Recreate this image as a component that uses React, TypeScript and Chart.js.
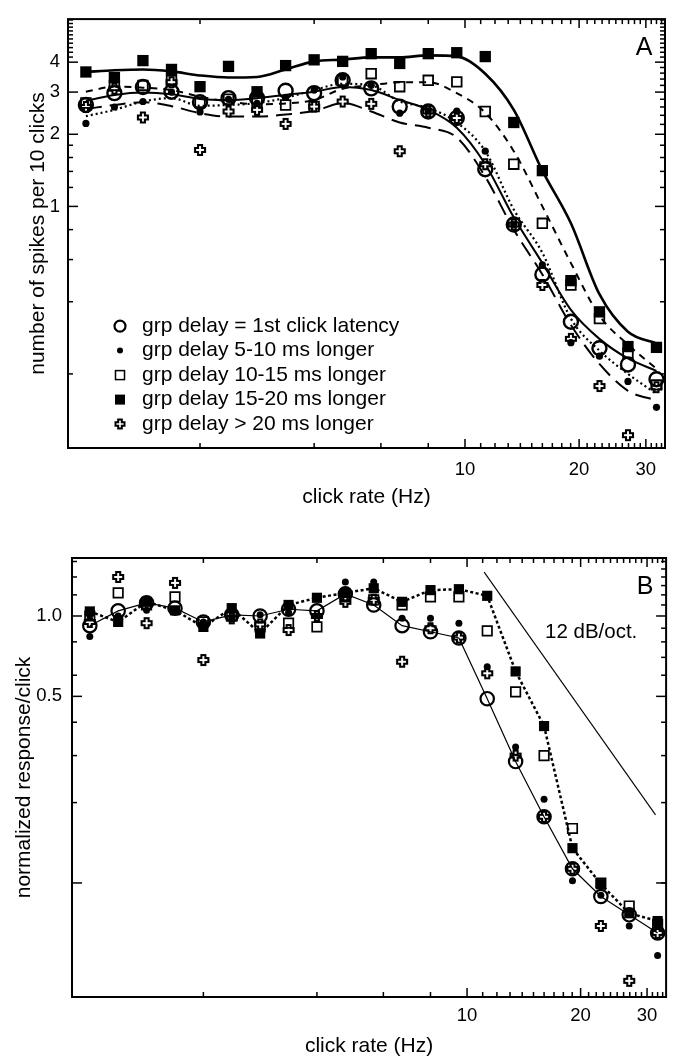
import React, { useEffect, useRef } from 'react';
import { Chart, registerables } from 'chart.js';

Chart.register(...registerables);

const FONT = "'Liberation Sans', Arial, Helvetica, sans-serif";

// click rates (Hz), quarter-octave steps
const rates = [1, 1.189, 1.414, 1.682, 2, 2.378, 2.828, 3.364, 4, 4.757, 5.657, 6.727, 8, 9.514, 11.31, 13.45, 16, 19.03, 22.63, 26.91, 32];

const legendLabels = [
  'grp delay = 1st click latency',
  'grp delay 5-10 ms longer',
  'grp delay 10-15 ms longer',
  'grp delay 15-20 ms longer',
  'grp delay > 20 ms longer',
];

// ---- Panel A: number of spikes per 10 clicks ----
const aCircle = [2.65, 2.97, 3.15, 3.01, 2.72, 2.83, 2.83, 3.04, 2.97, 3.36, 3.11, 2.61, 2.49, 2.34, 1.43, 0.84, 0.52, 0.33, 0.256, 0.219, 0.19];
const aDot = [2.22, 2.6, 2.74, 3.0, 2.48, 2.8, 2.69, 2.85, 3.06, 3.47, 3.2, 2.45, 2.5, 2.5, 1.7, 0.84, 0.57, 0.27, 0.237, 0.186, 0.145];
const aOpenSq = [2.7, 3.2, 3.2, 3.36, 2.72, 2.8, 2.74, 2.65, 2.61, 3.36, 3.58, 3.16, 3.36, 3.31, 2.49, 1.5, 0.85, 0.47, 0.34, 0.244, 0.18];
const aFilledSq = [3.64, 3.45, 4.06, 3.73, 3.16, 3.84, 3.01, 3.87, 4.09, 4.03, 4.34, 3.95, 4.34, 4.38, 4.22, 2.24, 1.41, 0.49, 0.363, 0.26, 0.258];
const aCross = [2.6, 3.1, 2.35, 3.3, 1.72, 2.49, 2.53, 2.21, 2.61, 2.74, 2.68, 1.7, 2.49, 2.34, 1.5, 0.84, 0.47, 0.28, 0.178, 0.111, 0.176];

// smoothed fits drawn as lines in panel A
const aFitFilledSq = [3.64, 3.7, 3.73, 3.66, 3.52, 3.45, 3.47, 3.73, 4.03, 4.1, 4.19, 4.19, 4.27, 4.23, 3.58, 2.53, 1.41, 0.85, 0.43, 0.3, 0.268];
const aFitCircle = [2.76, 2.92, 2.99, 2.94, 2.81, 2.78, 2.83, 2.92, 3.01, 3.15, 3.06, 2.78, 2.53, 2.13, 1.5, 0.9, 0.58, 0.37, 0.28, 0.232, 0.206];
const aFitDot = [2.38, 2.53, 2.74, 2.83, 2.63, 2.65, 2.7, 2.84, 3.06, 3.25, 3.2, 2.74, 2.58, 2.24, 1.7, 0.97, 0.64, 0.34, 0.25, 0.2, 0.165];
const aFitOpenSq = [3.01, 3.16, 3.13, 3.06, 2.87, 2.74, 2.67, 2.69, 2.78, 3.1, 3.2, 3.3, 3.3, 2.97, 2.46, 1.7, 1.0, 0.58, 0.35, 0.265, 0.21];
const aFitCross = [2.55, 2.65, 2.72, 2.62, 2.45, 2.37, 2.37, 2.42, 2.5, 2.7, 2.49, 2.24, 2.13, 1.94, 1.33, 0.8, 0.52, 0.32, 0.22, 0.17, 0.155];

// ---- Panel B: normalized response/click ----
const bCircle = [0.92, 1.045, 1.12, 1.07, 0.95, 1.01, 1.0, 1.06, 1.045, 1.21, 1.1, 0.92, 0.873, 0.827, 0.49, 0.285, 0.177, 0.113, 0.089, 0.076, 0.065];
const bFilledSq = [1.04, 0.95, 1.13, 1.05, 0.91, 1.07, 0.86, 1.1, 1.17, 1.22, 1.27, 1.13, 1.25, 1.26, 1.19, 0.62, 0.387, 0.135, 0.099, 0.077, 0.072];
const bOpenSq = [1.0, 1.22, 1.1, 1.18, 0.95, 1.0, 0.91, 0.94, 0.91, 1.18, 1.15, 1.1, 1.18, 1.18, 0.88, 0.52, 0.3, 0.16, 0.1, 0.082, 0.07];
const bDot = [0.837, 1.0, 1.05, 1.05, 0.95, 0.98, 1.01, 1.03, 1.0, 1.34, 1.34, 0.98, 0.98, 0.94, 0.645, 0.323, 0.206, 0.102, 0.09, 0.069, 0.0535];
const bCross = [0.95, 1.4, 0.94, 1.33, 0.684, 0.98, 0.93, 0.886, 1.0, 1.13, 1.15, 0.674, 0.9, 0.83, 0.61, 0.3, 0.177, 0.113, 0.069, 0.043, 0.065];

// 12 dB/oct reference slope
const slopeX = [11.1, 31.6];
const slopeY = [1.46, 0.18];

// ticks
const xTickLabels = [10, 20, 30];
const xMinorTicks = [2, 4, 6, 8, 11, 12, 13, 14, 15, 16, 17, 18, 19, 21, 22, 23, 24, 25, 26, 27, 28, 29, 31, 32, 33];
const aYTickLabels = [1, 2, 3, 4];
const aYLeftMinor = [0.2, 0.4, 0.6, 0.8, 1.2, 1.4, 1.6, 1.8, 4.2, 4.4, 4.6, 4.8, 5, 5.2, 5.4, 5.6, 5.8, 6];
const aYRightMinor = [0.2, 0.4, 0.6, 0.8, 1.2, 1.4, 1.6, 1.8, 2.2, 2.4, 2.6, 2.8, 3.2, 3.4, 3.6, 3.8, 4.2, 4.4, 4.6, 4.8, 5, 5.2, 5.4, 5.6, 5.8, 6];
const bYTickLabels = [0.5, 1.0];
const bYMajor = [0.1, 0.5, 1.0];
const bYLeftMinor = [0.2, 0.3, 0.4, 0.6, 0.8, 1.2, 1.4, 1.6];
const bYRightMinor = [0.1, 0.2, 0.3, 0.4, 0.6, 0.7, 0.8, 0.9, 1.1, 1.2, 1.3, 1.4, 1.5, 1.6];

const pts = (ys: number[]) => rates.map((r, i) => ({ x: r, y: ys[i] }));

function makeCross(size: number, lw: number): HTMLCanvasElement {
  const c = document.createElement('canvas');
  const s = 2 * Math.ceil((size + lw * 2 + 1) / 2);
  c.width = s;
  c.height = s;
  const g = c.getContext('2d')!;
  const m = s / 2;
  const L = size / 2;
  const a = size * 0.2;
  const p = [[-a, -L], [a, -L], [a, -a], [L, -a], [L, a], [a, a], [a, L], [-a, L], [-a, a], [-L, a], [-L, -a], [-a, -a]];
  g.beginPath();
  p.forEach(([px, py], i) => (i ? g.lineTo(m + px, m + py) : g.moveTo(m + px, m + py)));
  g.closePath();
  g.fillStyle = '#fff';
  g.fill();
  g.lineWidth = lw;
  g.lineJoin = 'miter';
  g.strokeStyle = '#000';
  g.stroke();
  return c;
}

function drawSymbol(ctx: CanvasRenderingContext2D, kind: string, x: number, y: number, cross: HTMLCanvasElement) {
  ctx.save();
  ctx.strokeStyle = '#000';
  ctx.fillStyle = '#000';
  ctx.setLineDash([]);
  if (kind === 'openCircle') {
    ctx.lineWidth = 2.2;
    ctx.beginPath();
    ctx.arc(x, y, 5.5, 0, Math.PI * 2);
    ctx.stroke();
  } else if (kind === 'dot') {
    ctx.beginPath();
    ctx.arc(x, y, 3, 0, Math.PI * 2);
    ctx.fill();
  } else if (kind === 'openSquare') {
    ctx.lineWidth = 1.5;
    ctx.strokeRect(x - 4.5, y - 4.5, 9, 9);
  } else if (kind === 'filledSquare') {
    ctx.fillRect(x - 5, y - 5, 10, 10);
  } else if (kind === 'cross') {
    ctx.drawImage(cross, Math.round(x - cross.width / 2), Math.round(y - cross.height / 2));
  }
  ctx.restore();
}

const decorPlugin = {
  id: 'decor',
  afterDraw(chart: any, _args: any, opts: any) {
    const { ctx, chartArea: ca, scales } = chart;
    const xs = scales.x;
    const ys = scales.y;
    ctx.save();
    ctx.strokeStyle = '#000';
    ctx.setLineDash([]);
    ctx.lineWidth = 1.5;
    const seg = (x1: number, y1: number, x2: number, y2: number) => {
      ctx.beginPath();
      ctx.moveTo(x1, y1);
      ctx.lineTo(x2, y2);
      ctx.stroke();
    };
    const xt = (vals: number[], len: number) =>
      vals.forEach((v) => {
        const p = xs.getPixelForValue(v);
        if (p < ca.left || p > ca.right) return;
        seg(p, ca.bottom, p, ca.bottom - len);
        seg(p, ca.top, p, ca.top + len);
      });
    const yt = (vals: number[], len: number, side: string) =>
      vals.forEach((v) => {
        const p = ys.getPixelForValue(v);
        if (p < ca.top || p > ca.bottom) return;
        if (side === 'left') seg(ca.left, p, ca.left + len, p);
        else seg(ca.right, p, ca.right - len, p);
      });
    xt(opts.xMinor, 5);
    xt(opts.xMajor, 9);
    yt(opts.yLeftMinor, 5, 'left');
    yt(opts.yMajor, 10, 'left');
    yt(opts.yRightMinor, 5, 'right');
    yt(opts.yMajor, 10, 'right');
    ctx.lineWidth = 2;
    ctx.strokeRect(ca.left, ca.top, ca.right - ca.left, ca.bottom - ca.top);

    ctx.fillStyle = '#000';
    (opts.texts || []).forEach((t: any) => {
      ctx.font = `${t.size}px ${FONT}`;
      ctx.textAlign = t.align || 'left';
      ctx.textBaseline = 'middle';
      ctx.fillText(t.text, ca.left + t.dx, ca.top + t.dy);
    });
    if (opts.legend) {
      const lg = opts.legend;
      ctx.font = `21px ${FONT}`;
      ctx.textAlign = 'left';
      ctx.textBaseline = 'middle';
      lg.labels.forEach((lab: string, i: number) => {
        const y = ca.top + lg.dy + i * lg.step;
        drawSymbol(ctx, lg.kinds[i], ca.left + lg.dx, y, lg.cross);
        ctx.fillStyle = '#000';
        ctx.fillText(lab, ca.left + lg.dx + 22, y);
      });
    }
    ctx.restore();
  },
};

function xScale(height: number, padTitle: number, labelPad: number) {
  return {
    type: 'logarithmic',
    position: 'bottom',
    min: 0.897,
    max: 33.7,
    bounds: 'data',
    grid: { display: false, drawTicks: false },
    border: { display: false },
    ticks: {
      color: '#000',
      font: { family: FONT, size: 18.5 },
      padding: labelPad,
      autoSkip: false,
      maxRotation: 0,
      minRotation: 0,
      callback: (v: any) => String(v),
    },
    afterBuildTicks: (s: any) => {
      s.ticks = xTickLabels.map((v) => ({ value: v }));
    },
    afterFit: (s: any) => {
      s.height = height;
    },
    title: {
      display: true,
      text: 'click rate (Hz)',
      color: '#000',
      font: { family: FONT, size: 21 },
      padding: { top: 0, bottom: padTitle },
    },
  };
}

function yScale(min: number, max: number, labels: number[], fmt: (v: number) => string, width: number, title: string, titlePad: number, labelPad: number) {
  return {
    type: 'logarithmic',
    position: 'left',
    min,
    max,
    bounds: 'data',
    grid: { display: false, drawTicks: false },
    border: { display: false },
    ticks: {
      color: '#000',
      font: { family: FONT, size: 18.5 },
      padding: labelPad,
      autoSkip: false,
      callback: (v: any) => fmt(Number(v)),
    },
    afterBuildTicks: (s: any) => {
      s.ticks = labels.map((v) => ({ value: v }));
    },
    afterFit: (s: any) => {
      s.width = width;
    },
    title: {
      display: true,
      text: title,
      color: '#000',
      font: { family: FONT, size: 21 },
      padding: { top: titlePad, bottom: 0 },
    },
  };
}

function marker(label: string, ys: number[], style: any, radius: number, filled: boolean, bw: number) {
  return {
    label,
    data: pts(ys),
    showLine: false,
    pointStyle: style,
    pointRadius: radius,
    pointHoverRadius: radius,
    pointBorderWidth: bw,
    pointBorderColor: '#000',
    pointBackgroundColor: filled ? '#000' : 'rgba(0,0,0,0)',
    borderColor: '#000',
    backgroundColor: filled ? '#000' : 'rgba(0,0,0,0)',
  };
}

function fitLine(label: string, ys: number[], width: number, dash: number[]) {
  return {
    label,
    data: pts(ys),
    showLine: true,
    pointRadius: 0,
    pointHoverRadius: 0,
    borderColor: '#000',
    borderWidth: width,
    borderDash: dash,
    cubicInterpolationMode: 'monotone',
    fill: false,
  };
}

function configA(cross: HTMLCanvasElement): any {
  return {
    type: 'line',
    data: {
      datasets: [
        marker(legendLabels[0], aCircle, 'circle', 7, false, 2.4),
        marker(legendLabels[1], aDot, 'circle', 3.6, true, 0),
        marker(legendLabels[2], aOpenSq, 'rect', 6.8, false, 1.8),
        marker(legendLabels[3], aFilledSq, 'rect', 8, true, 0),
        marker(legendLabels[4], aCross, cross, 5, false, 0),
        fitLine('fit 15-20', aFitFilledSq, 2.6, []),
        fitLine('fit 1st click', aFitCircle, 2, []),
        fitLine('fit 5-10', aFitDot, 2.2, [2, 3]),
        fitLine('fit 10-15', aFitOpenSq, 2, [7, 6]),
        fitLine('fit >20', aFitCross, 2, [16, 8]),
      ],
    },
    options: {
      responsive: false,
      animation: false,
      events: [],
      layout: { padding: { top: 13, right: 10, left: 0, bottom: 0 } },
      plugins: {
        legend: { display: false },
        tooltip: { enabled: false },
        decor: {
          xMinor: xMinorTicks,
          xMajor: xTickLabels,
          yMajor: aYTickLabels,
          yLeftMinor: aYLeftMinor,
          yRightMinor: aYRightMinor,
          texts: [{ text: 'A', size: 25, dx: 576, dy: 29, align: 'center' }],
          legend: {
            labels: legendLabels,
            kinds: ['openCircle', 'dot', 'openSquare', 'filledSquare', 'cross'],
            dx: 52,
            dy: 307,
            step: 24.5,
            cross: makeCross(9, 2),
          },
        },
      },
      scales: {
        x: xScale(80, 18, 11),
        y: yScale(0.0981, 6.05, aYTickLabels, (v) => String(v), 68, 'number of spikes per 10 clicks', 26, 8),
      },
    },
    plugins: [decorPlugin],
  };
}

function configB(cross: HTMLCanvasElement): any {
  return {
    type: 'line',
    data: {
      datasets: [
        {
          ...marker(legendLabels[0], bCircle, 'circle', 6.7, false, 2.2),
          showLine: true,
          borderWidth: 1.2,
          tension: 0,
        },
        {
          ...marker(legendLabels[3], bFilledSq, 'rect', 7.2, true, 0),
          showLine: true,
          borderWidth: 2.5,
          borderDash: [3, 2.5],
          tension: 0,
        },
        marker(legendLabels[2], bOpenSq, 'rect', 6.7, false, 1.7),
        marker(legendLabels[1], bDot, 'circle', 3.5, true, 0),
        marker(legendLabels[4], bCross, cross, 5, false, 0),
        {
          label: '12 dB/oct.',
          data: slopeX.map((x, i) => ({ x, y: slopeY[i] })),
          showLine: true,
          pointRadius: 0,
          pointHoverRadius: 0,
          borderColor: '#000',
          borderWidth: 1.1,
          tension: 0,
        },
      ],
    },
    options: {
      responsive: false,
      animation: false,
      events: [],
      layout: { padding: { top: 30, right: 5, left: 0, bottom: 0 } },
      plugins: {
        legend: { display: false },
        tooltip: { enabled: false },
        decor: {
          xMinor: xMinorTicks,
          xMajor: xTickLabels,
          yMajor: bYMajor,
          yLeftMinor: bYLeftMinor,
          yRightMinor: bYRightMinor,
          texts: [
            { text: 'B', size: 25, dx: 573, dy: 29, align: 'center' },
            { text: '12 dB/oct.', size: 20.5, dx: 473, dy: 74, align: 'left' },
          ],
        },
      },
      scales: {
        x: xScale(62, 0, 8),
        y: yScale(0.0374, 1.649, bYTickLabels, (v) => v.toFixed(1), 72, 'normalized response/click', 12, 10),
      },
    },
    plugins: [decorPlugin],
  };
}

function Panel({ top, height, make }: { top: number; height: number; make: (c: HTMLCanvasElement) => any }) {
  const ref = useRef<HTMLCanvasElement>(null);
  useEffect(() => {
    const cross = makeCross(10, 2.1);
    const chart = new Chart(ref.current as HTMLCanvasElement, make(cross));
    return () => chart.destroy();
  }, []);
  return (
    <canvas
      ref={ref}
      width={675}
      height={height}
      style={{ position: 'absolute', left: 0, top, width: 675, height, display: 'block' }}
    />
  );
}

export default function App() {
  return (
    <div style={{ position: 'absolute', left: 0, top: 0, width: 675, height: 1059, background: '#fff', overflow: 'hidden' }}>
      <Panel top={0} height={528} make={configA} />
      <Panel top={528} height={531} make={configB} />
    </div>
  );
}
